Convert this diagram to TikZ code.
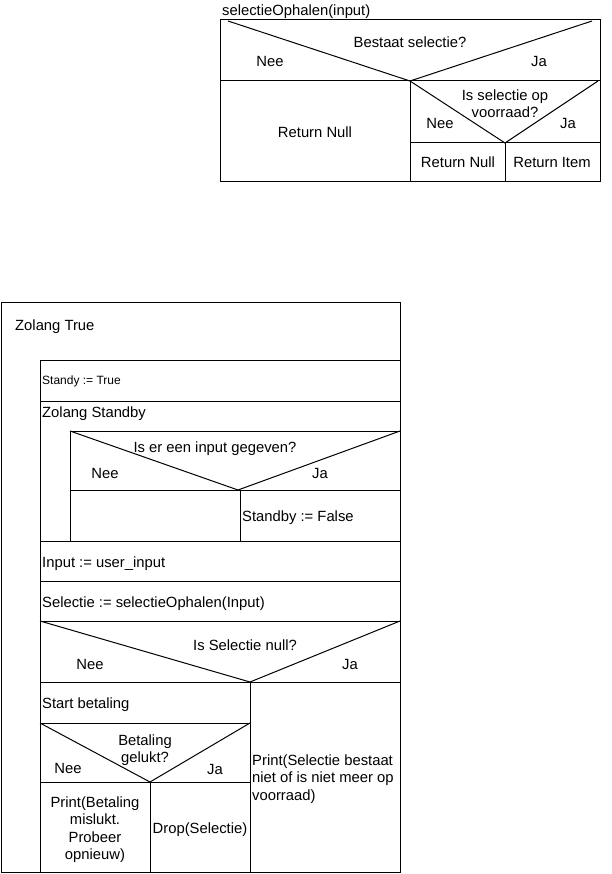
\documentclass[tikz,border=0pt]{standalone}
\usepackage{fontspec}
\setmainfont{Liberation Sans}
\usetikzlibrary{positioning}

\begin{document}
\begin{tikzpicture}[
    x=1pt, y=-1pt,
    line/.style={draw, line width=1pt},
    txt/.style={inner sep=0pt, anchor=base, font=\fontsize{14.8}{17.5}\selectfont},
    lefttxt/.style={txt, anchor=base west},
    smalltxt/.style={inner sep=0pt, anchor=base west, font=\fontsize{12}{14}\selectfont},
    multi/.style={inner sep=0pt, anchor=north, align=center, font=\fontsize{14.8}{17.5}\selectfont}
]
\useasboundingbox (0,0) rectangle (611,874);

% selectieOphalen
\node[lefttxt] (title) at (222,16) {selectieOphalen(input)};
\draw[line] (220,20) rectangle (600,182);
\draw[line] (228,21) -- (410,81) -- (592,21);
\draw[line] (220,81) -- (600,81);
\draw[line] (410,81) -- (410,182);
\draw[line] (410,81) -- (505,143) -- (598,81);
\draw[line] (410,143) -- (600,143);
\draw[line] (505,143) -- (505,182);
\node[txt] (qExists) at (410,48) {Bestaat selectie?};
\node[txt] (neeExists) at (270,67) {Nee};
\node[txt] (jaExists) at (539,67) {Ja};
\node[txt] (retNullA) at (315,138) {Return Null};
\node[multi] (qStock) at (505,89.5) {Is selectie op\\voorraad?};
\node[txt] (neeStock) at (440,129) {Nee};
\node[txt] (jaStock) at (568,129) {Ja};
\node[txt] (retNullB) at (458,168) {Return Null};
\node[txt] (retItem) at (552,168) {Return Item};

% hoofdprogramma
\draw[line] (1,302) rectangle (400,872);
\draw[line] (40,360) -- (400,360);
\draw[line] (40,360) -- (40,872);
\draw[line] (40,401) -- (400,401);
\draw[line] (70,431) -- (400,431);
\draw[line] (70,431) -- (70,541);
\draw[line] (70,431) -- (238,490) -- (400,431);
\draw[line] (70,490) -- (400,490);
\draw[line] (240,490) -- (240,541);
\draw[line] (40,541) -- (400,541);
\draw[line] (40,581) -- (400,581);
\draw[line] (40,621) -- (400,621);
\draw[line] (40,621) -- (250,682) -- (400,621);
\draw[line] (40,682) -- (400,682);
\draw[line] (250,682) -- (250,872);
\draw[line] (40,723) -- (250,723);
\draw[line] (40,723) -- (150,782) -- (250,723);
\draw[line] (40,782) -- (250,782);
\draw[line] (150,782) -- (150,872);

\node[lefttxt] (loopTrue) at (15,330) {Zolang True};
\node[smalltxt] (standyTrue) at (42,384) {Standy := True};
\node[lefttxt] (loopStandby) at (42,417) {Zolang Standby};
\node[txt] (qInput) at (215,452) {Is er een input gegeven?};
\node[txt] (neeInput) at (105,478) {Nee};
\node[txt] (jaInput) at (320,478) {Ja};
\node[lefttxt] (standbyFalse) at (242,521) {Standby := False};
\node[lefttxt] (inputAssign) at (42,567) {Input := user\_input};
\node[lefttxt] (selAssign) at (42,607) {Selectie := selectieOphalen(Input)};
\node[txt] (qNull) at (245,650) {Is Selectie null?};
\node[txt] (neeNull) at (90,669) {Nee};
\node[txt] (jaNull) at (350,669) {Ja};
\node[lefttxt] (startPay) at (42,708) {Start betaling};
\node[multi] (qPay) at (145,734.5) {Betaling\\gelukt?};
\node[txt] (neePay) at (68,773) {Nee};
\node[txt] (jaPay) at (215,774) {Ja};
\node[multi] (printFail) at (95,796.5) {Print(Betaling\\mislukt.\\Probeer\\opnieuw)};
\node[txt] (dropSel) at (200,833) {Drop(Selectie)};
\node[multi, anchor=north west, align=left] (printMissing) at (252,754.5) {Print(Selectie bestaat\\niet of is niet meer op\\voorraad)};
\end{tikzpicture}
\end{document}
